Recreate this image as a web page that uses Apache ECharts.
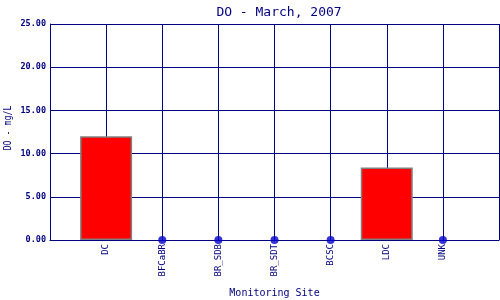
<!DOCTYPE html>
<html><head><meta charset="utf-8">
<script src="https://cdn.jsdelivr.net/npm/echarts@6/dist/echarts.min.js"></script>
<style>html,body{margin:0;padding:0;background:#fff}#c{width:500px;height:300px}</style>
</head><body><div id="c"></div>
<script>
const sites = ['DC', 'BFCaBR', 'BR_SDB', 'BR_SDT', 'BCSC', 'LDC', 'UNK'];
const doValues = [12.0, 0, 0, 0, 0, 8.4, 0];
const yTicks = [0, 5, 10, 15, 20, 25];
const yAxisTitle = 'DO - mg/L';

const navy = '#000080';
const font = 'DejaVu Sans Mono';
const cats = [''].concat(sites, ['']);
const barData = [null].concat(doValues.map(v => v > 0 ? v : null), [null]);
const dotData = [];
doValues.forEach((v, i) => { if (v === 0) dotData.push([sites[i], 0]); });

const chart = echarts.init(document.getElementById('c'), null, {renderer: 'canvas'});
chart.setOption({
  animation: false,
  backgroundColor: '#fff',
  title: {
    text: 'DO - March, 2007',
    left: 274, top: 1, textAlign: 'center',
    textStyle: {color: navy, fontFamily: font, fontSize: 13, fontWeight: 'normal'}
  },
  graphic: [{
    type: 'text', x: 8, y: 128, rotation: Math.PI / 2, scaleX: 0.75,
    style: {text: yAxisTitle, fill: navy, font: '11px "DejaVu Sans Mono"',
            textAlign: 'center', textVerticalAlign: 'middle'}
  }],
  grid: {left: 50, right: 1, top: 24, bottom: 60, containLabel: false, outerBoundsMode: 'none'},
  xAxis: {
    type: 'category', data: cats, boundaryGap: false,
    name: 'Monitoring Site', nameLocation: 'middle', nameGap: 48, nameMoveOverlap: false,
    nameTextStyle: {color: navy, fontFamily: font, fontSize: 10},
    axisLine: {lineStyle: {color: navy, width: 1}},
    axisTick: {show: false},
    axisLabel: {rotate: 90, interval: 0, color: navy, fontFamily: font, fontSize: 9, margin: 4},
    splitLine: {show: true, lineStyle: {color: navy, width: 1}}
  },
  yAxis: {
    type: 'value', min: 0, max: 25, interval: 5,
    axisLine: {show: true, lineStyle: {color: navy, width: 1}},
    axisTick: {show: false},
    axisLabel: {color: navy, fontFamily: font, fontSize: 8.5, fontWeight: 'bold', margin: 4,
      formatter: v => yTicks.includes(v) ? v.toFixed(2) : ''},
    splitLine: {show: true, lineStyle: {color: navy, width: 1}}
  },
  series: [
    {type: 'bar', data: barData, barWidth: 52,
     itemStyle: {color: '#ff0000', borderColor: '#808080', borderWidth: 1.5}},
    {type: 'scatter', data: dotData, symbol: 'circle', symbolSize: 8, clip: false,
     itemStyle: {color: '#0000cc'}, z: 5}
  ]
});
</script></body></html>
